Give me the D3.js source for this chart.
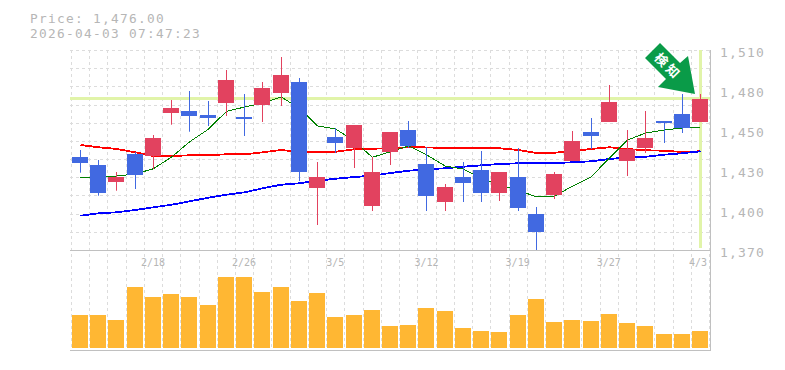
<!DOCTYPE html>
<html>
<head>
<meta charset="utf-8">
<script src="https://cdn.jsdelivr.net/npm/d3@7"></script>
<style>
  html, body { margin: 0; padding: 0; background: #fff; }
  svg { display: block; }
  text { font-family: "DejaVu Sans Mono", monospace; fill: #b6b6b6; }
</style>
</head>
<body>
<div id="chart"></div>
<script>
const titleLines = ["Price: 1,476.00", "2026-04-03 07:47:23"];
const lastPrice = 1476;

// tick labels are rounded on the source chart, so value and label are kept apart
const priceTicks = [1510, 1482, 1454, 1426, 1398, 1370];
const priceLabels = ["1,510", "1,480", "1,450", "1,430", "1,400", "1,370"];
const dateTicks = [4, 9, 14, 19, 24, 29, 34];
const dateLabels = ["2/18", "2/26", "3/5", "3/12", "3/19", "3/27", "4/3"];

const opens = [1435, 1429.5, 1417.6, 1437.2, 1435.8, 1465.9, 1467.3, 1464.5, 1472.9, 1463.1, 1471.5, 1479.9, 1487.6, 1413.4, 1449.1, 1441.4, 1400.8, 1438.6, 1454, 1430.2, 1403.6, 1421.1, 1426, 1409.9, 1421.1, 1395.2, 1408.5, 1432.3, 1452.6, 1459.6, 1432.3, 1441.4, 1460.3, 1465.2, 1459.6];
const highs = [1440, 1433, 1424.6, 1438.6, 1450.5, 1475, 1481.3, 1474.3, 1496, 1479.2, 1487.6, 1505.1, 1490.4, 1431.6, 1455.4, 1457.5, 1435.1, 1452.6, 1460.3, 1442.1, 1416.2, 1431.6, 1439.3, 1424.6, 1441.4, 1400.1, 1424.6, 1453.3, 1462.4, 1485.5, 1454, 1467.3, 1460.3, 1479.2, 1479.2];
const lows = [1424.1, 1408, 1411.5, 1412.7, 1426.7, 1457.7, 1452.8, 1456.8, 1463.8, 1449.8, 1459.6, 1470.8, 1418.3, 1387.5, 1437.9, 1427.4, 1397.3, 1429.5, 1441.4, 1397.3, 1397.3, 1403.6, 1403.6, 1404.3, 1397.3, 1370, 1405.7, 1432.3, 1440.7, 1459.6, 1421.8, 1437.9, 1444.9, 1451.9, 1459.6];
const closes = [1431, 1410, 1421, 1422.5, 1448.4, 1469.4, 1463.8, 1462.4, 1489, 1461.7, 1483.4, 1492.5, 1424.6, 1421.1, 1444.9, 1457.5, 1424.6, 1452.6, 1442.8, 1407.8, 1414.1, 1416.9, 1409.9, 1424.6, 1399.4, 1382.6, 1423.2, 1446.3, 1449.8, 1473.6, 1440.7, 1448.4, 1458.9, 1455.4, 1476];

const maShort = [1420.9, 1421.1, 1421.8, 1423.2, 1426.9, 1435.1, 1445.9, 1454.4, 1467, 1470.1, 1472.9, 1477.1, 1469.4, 1456.8, 1454.7, 1446.3, 1434.9, 1438.8, 1442.8, 1436.5, 1428.8, 1426.7, 1420, 1415.2, 1412, 1407.1, 1407.8, 1414.8, 1421.1, 1434.4, 1447, 1451.9, 1454, 1455.4, 1456.1];
const maMid = [1443.5, 1441.9, 1440.7, 1438.4, 1435.8, 1435.8, 1436.3, 1436.3, 1437, 1437, 1438.4, 1440, 1438.8, 1438.4, 1438.8, 1440.5, 1440.9, 1441.2, 1441.9, 1441.8, 1441.4, 1441.2, 1441.2, 1441.2, 1440, 1437.9, 1438.1, 1439.3, 1440.7, 1441.9, 1440.7, 1439.8, 1439.5, 1438.6, 1439.1];
const maLong = [1394, 1395.7, 1396.4, 1398, 1399.9, 1401.7, 1404.1, 1406.6, 1408.7, 1410.4, 1413.2, 1415.7, 1416.7, 1418.5, 1419.9, 1421.1, 1422, 1423.9, 1425.5, 1426.5, 1427.2, 1428.3, 1429.3, 1430.2, 1430.7, 1430.7, 1430.9, 1431.4, 1432.1, 1433.7, 1434.9, 1435.3, 1436.7, 1437.7, 1439.1];

const volumes = [33, 33, 28, 61, 51, 54, 51, 43, 71, 71, 56, 61, 47, 55, 31, 33, 38, 22, 23, 40, 37, 20, 17, 16, 33, 49, 26, 28, 27, 34, 25, 22, 14, 14, 17];

const w = 785, h = 370;
const left = 70, right = 710, priceTop = 50, priceBottom = 250, volBottom = 348, panelBottom = 350;
const UP = "#e2425f", DOWN = "#4169e1", VOL = "#ffb733";
const GRID = "#dcdcdc", AXIS = "#c0c0c0", HILITE = "#e1f4a9";

const svg = d3.select("#chart").append("svg").attr("width", w).attr("height", h);

const idx = d3.range(opens.length);
const x = d3.scalePoint().domain(idx).range([80, 700]);
const y = d3.scaleLinear().domain([1370, 1510]).range([priceBottom, priceTop]);
const yVol = d3.scaleLinear().domain([0, 98]).range([volBottom, priceBottom]);
const step = x.step();

// dashed grid
const gridG = svg.append("g").attr("stroke", GRID).attr("stroke-dasharray", "3,3");
gridG.selectAll(".vgrid").data(d3.range(opens.length + 1)).enter()
  .append("line").attr("class", "vgrid")
  .attr("x1", (d) => Math.round(80 + (d - 0.5) * step) + 0.5)
  .attr("x2", (d) => Math.round(80 + (d - 0.5) * step) + 0.5)
  .attr("y1", priceTop).attr("y2", panelBottom);
gridG.selectAll(".hgrid").data(d3.range(0, 11)).enter()
  .append("line").attr("class", "hgrid")
  .attr("x1", left).attr("x2", right)
  .attr("y1", (d) => Math.round(priceTop + d * (priceBottom - priceTop) / 11) + 0.5)
  .attr("y2", (d) => Math.round(priceTop + d * (priceBottom - priceTop) / 11) + 0.5);

// last price cross hair
svg.append("line").attr("x1", left).attr("x2", right)
  .attr("y1", y(lastPrice)).attr("y2", y(lastPrice))
  .attr("stroke", HILITE).attr("stroke-width", 3);
svg.append("line").attr("x1", x(34) + 0.5).attr("x2", x(34) + 0.5)
  .attr("y1", priceTop).attr("y2", 248)
  .attr("stroke", HILITE).attr("stroke-width", 3);

// moving averages sit under the candles
const lineFor = d3.line().x((d, i) => x(i) + 0.5).y((d) => y(d));
[[maMid, "#ff0000", 1.8], [maLong, "#0000ff", 1.8], [maShort, "#008000", 1]].forEach(([s, c, sw]) => {
  svg.append("path").attr("d", lineFor(s)).attr("fill", "none")
    .attr("stroke", c).attr("stroke-width", sw)
    .style("shape-rendering", "crispEdges");
});

// candles
const candle = svg.selectAll(".candle").data(idx).enter()
  .append("g").attr("class", "candle")
  .attr("fill", (i) => closes[i] >= opens[i] ? UP : DOWN)
  .attr("stroke", (i) => closes[i] >= opens[i] ? UP : DOWN);
candle.append("line")
  .attr("x1", (i) => Math.round(x(i)) + 0.5).attr("x2", (i) => Math.round(x(i)) + 0.5)
  .attr("y1", (i) => y(highs[i])).attr("y2", (i) => y(lows[i]));
candle.append("rect")
  .attr("stroke", "none")
  .attr("x", (i) => Math.round(x(i)) - 8).attr("width", 16)
  .attr("y", (i) => Math.round(y(Math.max(opens[i], closes[i]))))
  .attr("height", (i) => Math.round(Math.abs(y(opens[i]) - y(closes[i]))));

// volume
svg.selectAll(".vol").data(volumes).enter()
  .append("rect").attr("class", "vol")
  .attr("x", (d, i) => Math.round(x(i)) - 8).attr("width", 16)
  .attr("y", (d) => Math.round(yVol(d))).attr("height", (d) => volBottom - Math.round(yVol(d)))
  .attr("fill", VOL);

// panel frame
const frame = svg.append("g").attr("stroke", AXIS).attr("stroke-width", 1);
frame.append("line").attr("x1", left).attr("x2", right + 1).attr("y1", priceBottom + 0.5).attr("y2", priceBottom + 0.5);
frame.append("line").attr("x1", left).attr("x2", right + 1).attr("y1", panelBottom + 0.5).attr("y2", panelBottom + 0.5);
frame.append("line").attr("x1", right + 0.5).attr("x2", right + 0.5).attr("y1", priceTop).attr("y2", panelBottom);

// right axis, only the labels are shown
const yAxis = d3.axisRight(y).tickValues(priceTicks).tickSize(0).tickPadding(10)
  .tickFormat((d, i) => priceLabels[i]);
const yAxisG = svg.append("g").attr("transform", `translate(${right},0)`).call(yAxis);
yAxisG.select(".domain").remove();
yAxisG.selectAll("text")
  .style("font-size", "13px").style("letter-spacing", "1.2px")
  .attr("dy", null).attr("y", 6.5);

// date labels
svg.selectAll(".date").data(dateTicks).enter()
  .append("text").attr("class", "date")
  .attr("x", (d) => d === 34 ? 698 : x(d)).attr("y", 266)
  .attr("text-anchor", "middle").style("font-size", "10px")
  .text((d, i) => dateLabels[i]);

// title
svg.selectAll(".title").data(titleLines).enter()
  .append("text").attr("class", "title")
  .attr("x", 30).attr("y", (d, i) => 23 + i * 15)
  .style("font-size", "12.8px").style("letter-spacing", "1.3px").text((d) => d);

// signal arrow
const arrow = svg.append("g");
arrow.append("polygon")
  .attr("points", "660,43 645,58 666,79 658,87 695,94 688,56 680,63")
  .attr("fill", "#0a9b48");
arrow.append("text")
  .attr("transform", "translate(668,66.5) rotate(45)")
  .attr("text-anchor", "middle").attr("dy", "0.35em")
  .style("font-family", '"Noto Sans CJK JP"').style("font-size", "13px")
  .style("letter-spacing", "3px").style("font-weight", "bold").style("fill", "#fff")
  .text("検知");
</script>
</body>
</html>
